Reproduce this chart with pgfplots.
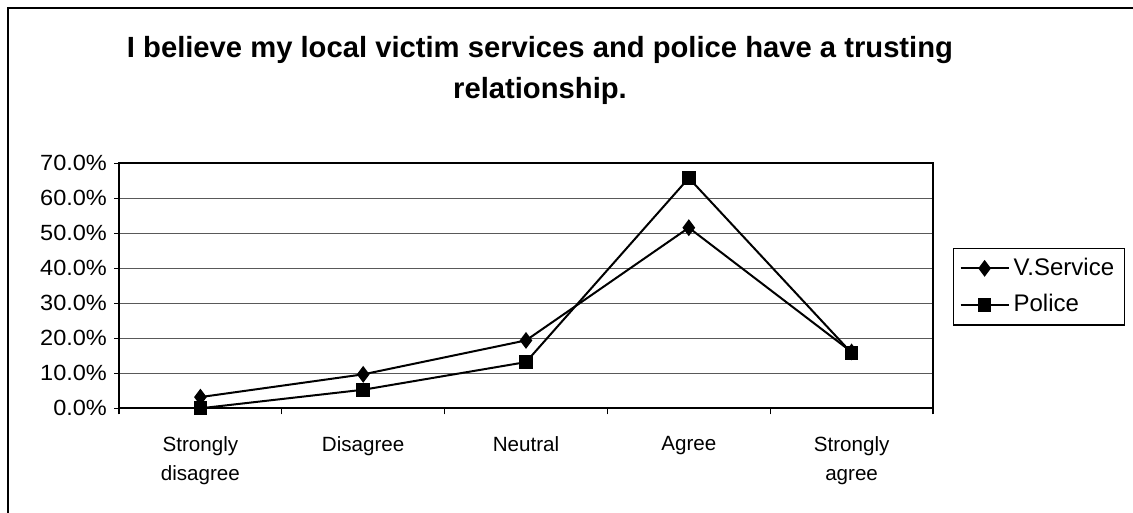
\documentclass[border=0pt]{standalone}
\usepackage{fontspec}
\setmainfont{Liberation Sans}
\usepackage{graphicx}
\usepackage{pgfplots}
\pgfplotsset{compat=1.18}
\begin{document}
\begin{tikzpicture}[x=1pt,y=1pt]
\useasboundingbox (0,0) rectangle (566.5,256.5);
\draw[line width=1pt] (4,-2) -- (4,252.5) -- (570,252.5);
\node[align=center,font=\fontsize{14.6}{20.5}\selectfont\bfseries] at (270,221.5)
  {I believe my local victim services and police have a trusting\\relationship.};
\begin{axis}[
  at={(59.5pt,52.35pt)}, anchor=south west,
  scale only axis, width=407pt, height=122.5pt,
  xmin=0.5, xmax=5.5, ymin=0, ymax=70,
  xtick={1,2,3,4,5},
  xticklabels={Strongly\\disagree,Disagree,Neutral,Agree,Strongly\\agree},
  minor xtick={0.5,1.5,2.5,3.5,4.5,5.5},
  ytick={0,10,...,70},
  yticklabel={\scalebox{1.07}[1]{\pgfmathprintnumber[fixed,fixed zerofill,precision=1]{\tick}\%}},
  /pgf/number format/assume math mode=true,
  tick align=outside, tick pos=left,
  major x tick style={draw=none},
  minor tick length=3pt, major tick length=2.5pt,
  tick style={black, line width=0.6pt},
  ymajorgrids, grid style={black!65, line width=0.5pt},
  axis line style={line width=1pt},
  yticklabel style={font=\fontsize{11}{13}\selectfont},
  xticklabel style={font=\fontsize{10.3}{14.5}\selectfont, align=center, anchor=north, yshift=-8pt},
  legend style={at={(1.0246,0.497)}, anchor=west, draw=black, line width=0.6pt,
    font=\fontsize{12}{14}\selectfont, row sep=4pt, inner sep=3pt},
  legend cell align=left,
  legend image code/.code={\draw[#1, mark repeat=2, mark phase=2] plot coordinates {(0pt,0pt) (12pt,0pt) (24pt,0pt)};},
]
\addplot[black, line width=1pt, mark=diamond*, mark size=3.4pt, mark options={solid}]
  coordinates {(1,3.2) (2,9.7) (3,19.4) (4,51.6) (5,16.1)};
\addlegendentry{V.Service}
\addplot[black, line width=1pt, mark=square*, mark size=2.9pt, mark options={solid}]
  coordinates {(1,0) (2,5.3) (3,13.2) (4,65.8) (5,15.8)};
\addlegendentry{Police}
\end{axis}
\end{tikzpicture}
\end{document}
